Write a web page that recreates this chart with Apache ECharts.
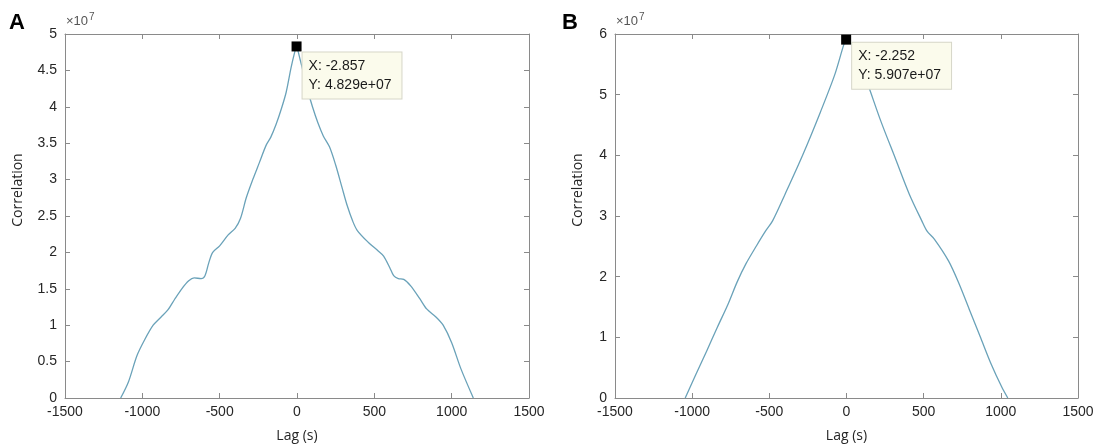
<!DOCTYPE html>
<html>
<head>
<meta charset="utf-8">
<script src="https://cdn.jsdelivr.net/npm/echarts@6/dist/echarts.min.js"></script>
<style>
html,body{margin:0;padding:0;background:#fff;}
#c{width:1097px;height:448px;}
</style>
</head>
<body>
<div id="c"></div>
<script>
// Panel A: lag (s) and correlation (units of 1e7)
const lagA = [-1140,-1090,-1035,-985,-930,-880,-835,-790,-745,-700,-665,-620,-595,-570,-545,-500,-445,-400,-365,-328,-286,-242,-200,-170,-135,-100,-70,-38,-16,-2.857,
  5,20,40,70,100,135,170,210,250,290,325,360,390,460,525,560,600,625,655,690,735,795,840,900,945,1000,1060,1140];
const corrA = [0,0.22,0.58,0.8,1.0,1.11,1.21,1.36,1.5,1.61,1.65,1.64,1.68,1.86,2.0,2.09,2.24,2.33,2.47,2.75,3.0,3.24,3.47,3.58,3.76,3.98,4.2,4.54,4.74,4.829,
  4.78,4.65,4.48,4.22,4.0,3.78,3.6,3.45,3.2,2.9,2.64,2.43,2.3,2.14,2.02,1.95,1.79,1.68,1.64,1.63,1.54,1.36,1.22,1.11,1.0,0.76,0.4,0];
// Panel B
const lagB = [-1045,-974,-905,-836,-767,-709,-652,-583,-525,-479,-398,-283,-168,-76,-18,-2.252,
  39,131,223,315,407,488,522,569,661,730,799,868,937,1006,1045];
const corrB = [0,0.40,0.78,1.17,1.55,1.91,2.21,2.51,2.75,2.92,3.36,4.01,4.72,5.33,5.82,5.907,
  5.82,5.22,4.56,3.96,3.36,2.92,2.75,2.62,2.26,1.88,1.44,1.0,0.56,0.18,0];
const peakA = [-2.857, 4.829];
const peakB = [-2.252, 5.907];
const xTicks = [-1500, 1500, 500];
const yTicksA = [0, 5, 0.5];
const yTicksB = [0, 6, 1];
const panelLabels = ['A', 'B'];
const xTitle = 'Lag (s)';
const yTitle = 'Correlation';

const axisGray = '#8a8a8a';
const txt = '#262626';
const lineColor = '#6aa2b9';
const tickFont = 'Liberation Sans, Arial, sans-serif';
const titleFont = 'Open Sans, sans-serif';

function xAx(gi, pos) {
  const bottom = pos === 'bottom';
  return {
    type: 'value', gridIndex: gi, position: pos,
    min: xTicks[0], max: xTicks[1], interval: xTicks[2],
    axisLine: {show: true, onZero: false, lineStyle: {color: axisGray, width: 1}},
    axisTick: {show: true, inside: true, length: 5, lineStyle: {color: axisGray}},
    axisLabel: {show: bottom, color: txt, fontSize: 14, fontFamily: tickFont, margin: 7, formatter: v => String(v)},
    splitLine: {show: false},
    name: bottom ? xTitle : '', nameLocation: 'middle', nameGap: 31,
    nameTextStyle: {color: txt, fontSize: 14, fontFamily: titleFont}
  };
}
function yAx(gi, pos, t) {
  const left = pos === 'left';
  return {
    type: 'value', gridIndex: gi, position: pos,
    min: t[0], max: t[1], interval: t[2],
    axisLine: {show: true, onZero: false, lineStyle: {color: axisGray, width: 1}},
    axisTick: {show: true, inside: true, length: 5, lineStyle: {color: axisGray}},
    axisLabel: {show: left, color: txt, fontSize: 14, fontFamily: tickFont, margin: 8, formatter: v => String(v)},
    splitLine: {show: false}
  };
}
function pairs(xs, ys) { return xs.map((x, i) => [x, ys[i]]); }
function peakMark(p, off) {
  return {
    symbol: 'rect', symbolSize: 10, animation: false,
    itemStyle: {color: '#000'},
    data: [{coord: p}],
    label: {
      show: true, position: off, align: 'left', verticalAlign: 'top',
      formatter: 'X: ' + p[0] + '\nY: ' + p[1].toFixed(3) + 'e+07',
      color: '#1a1a1a', fontSize: 14, fontFamily: tickFont, lineHeight: 19,
      backgroundColor: '#fbfbec', borderColor: '#d6d6c8', borderWidth: 1,
      padding: [4, 10, 4, 6]
    }
  };
}
function expLabel(left) {
  return {type: 'text', left: left, top: 12, style: {
    text: '×10{s|7}', fontSize: 13, fontFamily: tickFont, fill: '#555',
    rich: {s: {fontSize: 10, fontFamily: tickFont, fill: '#555', padding: [0, 0, 9, 1]}}}};
}
function yTitleText(x) {
  return {type: 'text', x: x, y: 190, rotation: Math.PI / 2,
    style: {text: yTitle, fontSize: 14, fontFamily: titleFont, fill: txt, align: 'center', verticalAlign: 'middle'}};
}

const chart = echarts.init(document.getElementById('c'), null, {renderer: 'canvas'});
chart.setOption({
  animation: false,
  backgroundColor: '#fff',
  grid: [
    {left: 65, top: 34, width: 464, height: 365},
    {left: 615, top: 34, width: 463, height: 365}
  ],
  xAxis: [xAx(0, 'bottom'), xAx(0, 'top'), xAx(1, 'bottom'), xAx(1, 'top')],
  yAxis: [yAx(0, 'left', yTicksA), yAx(0, 'right', yTicksA), yAx(1, 'left', yTicksB), yAx(1, 'right', yTicksB)],
  series: [
    {type: 'line', xAxisIndex: 0, yAxisIndex: 0, data: pairs(lagA, corrA), showSymbol: false, smooth: 0.3,
     lineStyle: {color: lineColor, width: 1.3}, markPoint: peakMark(peakA, [11, 11])},
    {type: 'line', xAxisIndex: 2, yAxisIndex: 2, data: pairs(lagB, corrB), showSymbol: false, smooth: 0.3,
     lineStyle: {color: lineColor, width: 1.3}, markPoint: peakMark(peakB, [11, 8])}
  ],
  graphic: [
    {type: 'text', left: 9, top: 12, style: {text: panelLabels[0], fontSize: 22, fontWeight: 'bold', fontFamily: tickFont, fill: '#000'}},
    {type: 'text', left: 562, top: 12, style: {text: panelLabels[1], fontSize: 22, fontWeight: 'bold', fontFamily: tickFont, fill: '#000'}},
    expLabel(66), expLabel(616),
    yTitleText(18), yTitleText(578)
  ]
});
</script>
</body>
</html>
